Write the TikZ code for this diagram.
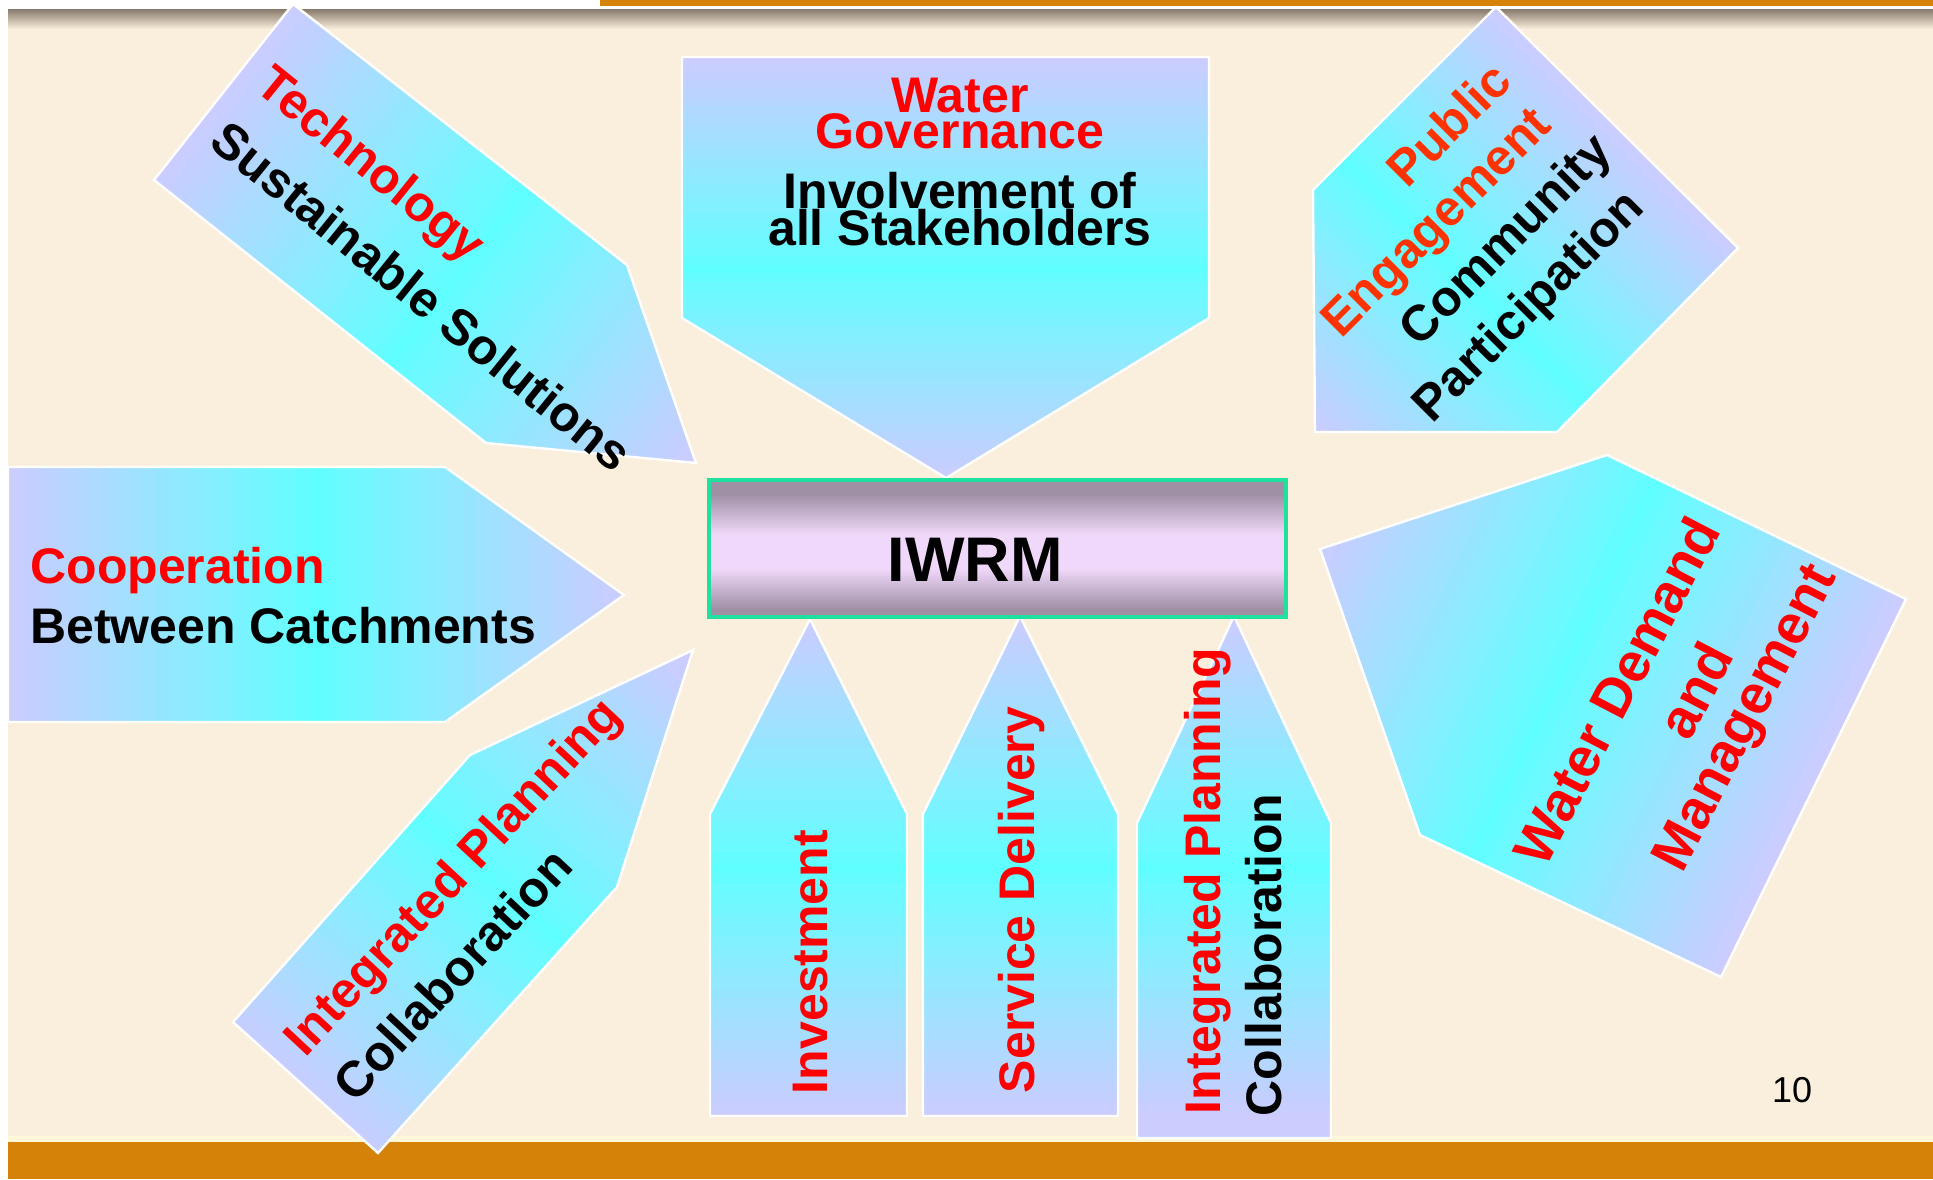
\documentclass[tikz,border=0pt]{standalone}
\usepackage{fontspec}
\setmainfont{Liberation Sans}
\usepackage{xcolor}
\usepackage{tikz}
\usetikzlibrary{shapes,arrows,positioning,calc,arrows.meta}

\definecolor{slidebg}{RGB}{250,238,220}
\definecolor{lav}{RGB}{204,204,255}
\definecolor{aqua}{RGB}{96,255,255}
\definecolor{barorange}{RGB}{212,130,8}
\definecolor{barlight}{RGB}{255,247,215}
\definecolor{shadowgray}{RGB}{135,122,108}
\definecolor{boxrim}{RGB}{32,224,160}
\definecolor{boxdark}{RGB}{160,144,166}
\definecolor{boxlight}{RGB}{240,216,250}
\definecolor{engred}{RGB}{255,51,0}

% lavender-aqua-lavender band: centre x, centre y, axis angle, half length
\newcommand{\bandfill}[4]{%
    \foreach \k in {-24,...,24} {
        \pgfmathtruncatemacro{\p}{100-100*abs(\k)/24}
        \fill[aqua!\p!lav, rotate around={#3:(#1,#2)}]
            ({#1+\k*#4/24-#4/48-1}, {#2-700}) rectangle ({#1+\k*#4/24+#4/48+1}, {#2+700});
    }%
}

\begin{document}
\begin{tikzpicture}[x=0.5pt, y=-0.5pt,
    rim/.style={draw=white, line width=1.2pt, line join=miter, fill=lav},
    redtxt/.style={font=\fontsize{25}{30}\selectfont\bfseries, text=red, inner sep=0pt},
    blktxt/.style={font=\fontsize{25}{30}\selectfont\bfseries, text=black, inner sep=0pt},
    demtxt/.style={font=\fontsize{27.5}{33}\selectfont\bfseries, text=red, inner sep=0pt, rotate=62.5}]
    \useasboundingbox (0,0) rectangle (1933,1179);

    % Slide background
    \fill[white] (0,0) rectangle (1933,1179);
    \fill[slidebg] (8,9) rectangle (1933,1142);
    \foreach \k in {0,...,20} {
        \pgfmathtruncatemacro{\p}{5*\k}
        \fill[slidebg!\p!shadowgray] (8,9+\k) rectangle (1933,10.5+\k);
    }
    \fill[barorange] (600,0) rectangle (1933,6);
    \fill[barlight] (8,1136) rectangle (1933,1142);
    \fill[barorange] (8,1142) rectangle (1933,1179);

    % Water governance (top)
    \draw[rim, path picture={\bandfill{946}{268}{90}{211}}]
        (682,57) -- (1209,57) -- (1209,318) -- (946,478) -- (682,318) -- cycle;

    % Technology (top left)
    \draw[rim, path picture={\bandfill{459}{277}{-38}{300}}]
        (293,4) -- (627,265) -- (696,463) -- (486,443) -- (154,180) -- cycle;

    % Public engagement (top right)
    \draw[rim, path picture={\bandfill{1466}{280}{45}{215}}]
        (1496,7) -- (1738,248) -- (1557,432) -- (1315,432) -- (1313,190) -- cycle;

    % Cooperation (left)
    \draw[rim, path picture={\bandfill{316}{595}{0}{308}}]
        (8,467) -- (445,467) -- (624,595) -- (445,722) -- (8,722) -- cycle;

    % Water demand (right)
    \draw[rim, path picture={\bandfill{1566}{668}{-26}{275}}]
        (1607,455) -- (1906,599) -- (1721,977) -- (1420,835) -- (1320,549) -- cycle;

    % Integrated planning (bottom left)
    \draw[rim, path picture={\bandfill{490}{878}{48.5}{292}}]
        (693,650) -- (617,887) -- (378,1153) -- (233,1022) -- (470,755) -- cycle;

    % Bottom arrows
    \foreach \lx/\rx/\tx/\ty/\sy/\by in {710/907/810/619/814/1116, 923/1118/1020/616/814/1116, 1137/1331/1234/616/823/1138} {
        \draw[rim, path picture={\bandfill{\tx}{867}{90}{250}}]
            (\lx,\by) -- (\lx,\sy) -- (\tx,\ty) -- (\rx,\sy) -- (\rx,\by) -- cycle;
    }

    % Centre box
    \begin{scope}
        \clip (709,480) rectangle (1286,617);
        \foreach \k in {0,...,69} {
            \pgfmathtruncatemacro{\p}{max(0,min(100,100*(57-abs(482+2*\k-553))/40))}
            \fill[boxlight!\p!boxdark] (709,480+2*\k) rectangle (1286,483+2*\k);
        }
    \end{scope}
    \draw[boxrim, line width=1.6pt] (709,480) rectangle (1286,617);
    \node[font=\fontsize{31.5}{36}\selectfont\bfseries, inner sep=0pt] (iwrm) at (975,560) {IWRM};

    % Labels
    \node[redtxt, anchor=base] (gov1) at (960,112) {Water};
    \node[redtxt, anchor=base] (gov2) at (960,148) {Governance};
    \node[blktxt, anchor=base] (gov3) at (960,208) {Involvement of};
    \node[blktxt, anchor=base] (gov4) at (960,245) {all Stakeholders};

    \node[redtxt, rotate=-39] (tech1) at (369,167) {Technology};
    \node[blktxt, rotate=-39] (tech2) at (422,296) {Sustainable Solutions};

    \node[redtxt, text=engred, rotate=45] (pub1) at (1448,124) {Public};
    \node[redtxt, text=engred, rotate=45] (pub2) at (1439,225) {Engagement};
    \node[blktxt, rotate=45] (pub3) at (1508,242) {Community};
    \node[blktxt, rotate=45] (pub4) at (1530,308) {Participation};

    \node[redtxt, anchor=base west] (coop1) at (30,583) {Cooperation};
    \node[blktxt, anchor=base west] (coop2) at (30,643) {Between Catchments};

    \node[demtxt] (dem1) at (1616,691) {Water Demand};
    \node[demtxt] (dem2) at (1695,690) {and};
    \node[demtxt] (dem3) at (1748,719) {Management};

    \node[redtxt, rotate=47] (plan1) at (455,879) {Integrated Planning};
    \node[blktxt, rotate=47] (plan2) at (452,974) {Collaboration};

    \node[redtxt, rotate=90] (inv) at (811,962) {Investment};
    \node[redtxt, rotate=90] (serv) at (1022,900) {Service Delivery};
    \node[redtxt, rotate=90] (plan3) at (1208,881) {Integrated Planning};
    \node[blktxt, rotate=90] (plan4) at (1264,955) {Collaboration};

    % Slide number
    \node[font=\fontsize{18}{20}\selectfont, inner sep=0pt] (pgno) at (1792,1090) {10};
\end{tikzpicture}
\end{document}
